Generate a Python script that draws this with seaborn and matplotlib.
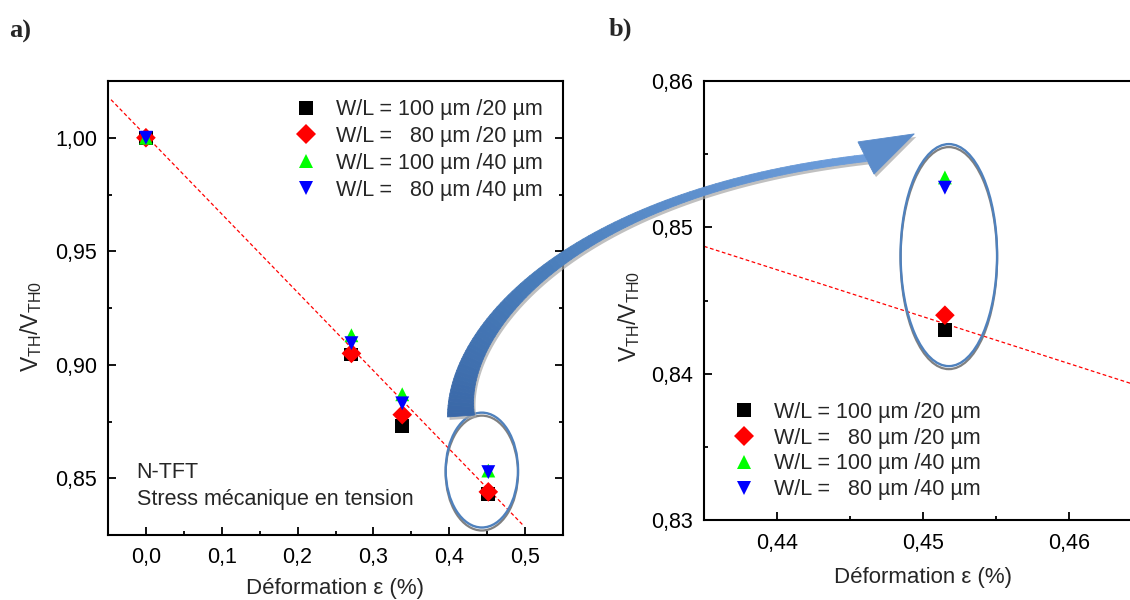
import numpy as np
import pandas as pd
import matplotlib
matplotlib.use('Agg')
import matplotlib.pyplot as plt
import matplotlib.colors as mcolors
from matplotlib.patches import Ellipse, Polygon
from matplotlib.collections import PolyCollection
from matplotlib.ticker import MultipleLocator, FuncFormatter
from matplotlib.transforms import offset_copy
import seaborn as sns

# strain steps (%)
strain = [0.0, 0.271, 0.338, 0.4515]

series_labels = ['W/L = 100 µm /20 µm', 'W/L =   80 µm /20 µm',
                 'W/L = 100 µm /40 µm', 'W/L =   80 µm /40 µm']
vth_100_20 = [1.000, 0.9045, 0.873, 0.843]
vth_80_20 = [1.000, 0.905, 0.878, 0.844]
vth_100_40 = [1.000, 0.913, 0.887, 0.8534]
vth_80_40 = [1.000, 0.9095, 0.883, 0.8527]

series_colors = ['black', 'red', '#00ff00', 'blue']
series_markers = ['s', 'D', '^', 'v']

# linear fit shown in each panel: (intercept, slope) and x span
fit_a = (1.0009, -0.345)
fit_a_x = [-0.046, 0.497]
fit_b = (0.9879, -0.32)
fit_b_x = [0.435, 0.465]

sns.set_style('ticks')
plt.rcParams['font.family'] = ['Liberation Sans', 'DejaVu Sans']
plt.rcParams['axes.edgecolor'] = 'black'
plt.rcParams['xtick.color'] = 'black'
plt.rcParams['ytick.color'] = 'black'
plt.rcParams['mathtext.fontset'] = 'custom'
plt.rcParams['mathtext.rm'] = 'Liberation Sans'

df = pd.DataFrame({
    'strain': strain * len(series_labels),
    'ratio': vth_100_20 + vth_80_20 + vth_100_40 + vth_80_40,
    'device': np.repeat(series_labels, len(strain)),
})

W, H = 1130, 600
fig = plt.figure(figsize=(W / 100, H / 100), dpi=100)
ax1 = fig.add_axes([108 / W, 1 - 535 / H, 455 / W, 454 / H])
ax2 = fig.add_axes([704 / W, 1 - 520.4 / H, 438 / W, 439.7 / H])

ylabel = r'V$_{\mathregular{TH}}$/V$_{\mathregular{TH0}}$'
xlabel = 'Déformation ε (%)'
FS = 15.5


def comma(fmt):
    return FuncFormatter(lambda v, p: fmt.format(v).replace('.', ','))


def draw_panel(ax, fit, fit_x):
    fx = np.array(fit_x)
    sns.lineplot(x=fx, y=fit[0] + fit[1] * fx, color='red', lw=0.9,
                 linestyle=(0, (3, 2)), ax=ax, zorder=2)
    sns.scatterplot(data=df, x='strain', y='ratio', hue='device', style='device',
                    hue_order=series_labels, style_order=series_labels,
                    palette=dict(zip(series_labels, series_colors)),
                    markers=dict(zip(series_labels, series_markers)),
                    s=100, linewidth=0, ax=ax, zorder=3)
    ax.set_xlabel(xlabel, fontsize=16)
    ax.set_ylabel(ylabel, fontsize=16.5)
    ax.tick_params(which='both', direction='in', width=1.3, labelsize=FS)
    ax.tick_params(axis='x', pad=9)
    ax.tick_params(axis='y', pad=8)
    ax.tick_params(which='major', length=6)
    ax.tick_params(which='minor', length=3)
    for sp in ax.spines.values():
        sp.set_linewidth(1.5)
        sp.set_visible(True)


draw_panel(ax1, fit_a, fit_a_x)
ax1.set_xlim(-0.05, 0.55)
ax1.set_ylim(0.825, 1.025)
ax1.xaxis.set_major_locator(MultipleLocator(0.1))
ax1.xaxis.set_minor_locator(MultipleLocator(0.05))
ax1.yaxis.set_major_locator(MultipleLocator(0.05))
ax1.yaxis.set_minor_locator(MultipleLocator(0.025))
ax1.xaxis.set_major_formatter(comma('{:.1f}'))
ax1.yaxis.set_major_formatter(comma('{:.2f}'))
ax1.tick_params(which='both', right=True)
ax1.xaxis.set_label_coords(0.5, -0.095)
ax1.yaxis.set_label_coords(-0.14, 0.46)
sns.move_legend(ax1, 'upper left', bbox_to_anchor=(0.411, 0.96), title=None,
                frameon=False, fontsize=FS, handlelength=1.0, handletextpad=0.9,
                labelspacing=0.27, borderaxespad=0, borderpad=0)
ax1.text(0.063, 0.137, 'N-TFT', transform=ax1.transAxes, fontsize=FS, va='center')
ax1.text(0.063, 0.078, 'Stress mécanique en tension', transform=ax1.transAxes,
         fontsize=FS, va='center')

draw_panel(ax2, fit_b, fit_b_x)
ax2.set_xlim(0.435, 0.465)
ax2.set_ylim(0.83, 0.86)
ax2.xaxis.set_major_locator(MultipleLocator(0.01))
ax2.xaxis.set_minor_locator(MultipleLocator(0.005))
ax2.yaxis.set_major_locator(MultipleLocator(0.01))
ax2.yaxis.set_minor_locator(MultipleLocator(0.005))
ax2.xaxis.set_major_formatter(comma('{:.2f}'))
ax2.yaxis.set_major_formatter(comma('{:.2f}'))
ax2.xaxis.set_label_coords(0.5, -0.105)
ax2.yaxis.set_label_coords(-0.142, 0.464)
sns.move_legend(ax2, 'lower left', bbox_to_anchor=(0.066, 0.046), title=None,
                frameon=False, fontsize=FS, handlelength=1.0, handletextpad=0.9,
                labelspacing=0.22, borderaxespad=0, borderpad=0)


def ring(ax, center, w, h):
    shadow_tr = offset_copy(ax.transData, fig=fig, x=0, y=-3, units='dots')
    ax.add_patch(Ellipse(center, w, h, transform=shadow_tr, fill=False, ec='0.5',
                         lw=1.6, clip_on=False, zorder=4))
    ax.add_patch(Ellipse(center, w, h, fill=False, ec='#4f81bd', lw=1.7,
                         clip_on=False, zorder=5))


ring(ax1, (0.443, 0.8536), 0.0954, 0.0506)
ring(ax2, (0.45177, 0.8481), 0.00661, 0.01515)


# curved tapered arrow linking the two circled groups (figure pixels, y from top)
def to_fig(p):
    return np.column_stack([p[:, 0] / W, 1 - p[:, 1] / H])


ctrl = np.array([[461, 416.], [455, 330.], [570, 192.], [866, 158.]])
t = np.linspace(0, 1, 80)[:, None]
bern = np.hstack([(1 - t) ** 3, 3 * (1 - t) ** 2 * t, 3 * (1 - t) * t ** 2, t ** 3])
centre = bern @ ctrl
dbern = np.hstack([-3 * (1 - t) ** 2, 3 * (1 - t) ** 2 - 6 * t * (1 - t),
                   6 * t * (1 - t) - 3 * t ** 2, 3 * t ** 2])
tang = dbern @ ctrl
tang /= np.linalg.norm(tang, axis=1, keepdims=True)
normal = np.column_stack([-tang[:, 1], tang[:, 0]])
half = (3.5 + 10 * (1 - t[:, 0]) ** 2)[:, None]
left_edge = centre + normal * half
right_edge = centre - normal * half
ang = np.deg2rad(-20)
hd = tang[-1] @ np.array([[np.cos(ang), np.sin(ang)], [-np.sin(ang), np.cos(ang)]])
hn = np.array([-hd[1], hd[0]])
p_end = centre[-1]
head = np.array([p_end + hn * 18, p_end + hd * 54, p_end - hn * 18])

shadow_poly = np.vstack([left_edge, head, right_edge[::-1]]) + np.array([2, 3])
fig.add_artist(Polygon(to_fig(shadow_poly), closed=True, transform=fig.transFigure,
                       fc='0.65', ec='none', alpha=0.7, zorder=9))
quads = [to_fig(np.array([left_edge[i], left_edge[i + 1], right_edge[i + 1], right_edge[i]]))
         for i in range(len(t) - 1)]
ramp = mcolors.LinearSegmentedColormap.from_list('ribbon', ['#3a68a8', '#4a7ebb', '#6d9ddb'])
shades = ramp(np.linspace(0, 1, len(quads)))
body = PolyCollection(quads, transform=fig.transFigure, zorder=10,
                      facecolors=shades, edgecolors=shades, linewidths=0.6)
fig.add_artist(body)
fig.add_artist(Polygon(to_fig(head), closed=True, transform=fig.transFigure,
                       fc='#5b8ccb', ec='#5b8ccb', lw=0.6, zorder=10))

fig.text(9 / W, 1 - 31 / H, 'a)', family=['Liberation Serif'], fontweight='bold',
         fontsize=19, va='center')
fig.text(609 / W, 1 - 29 / H, 'b)', family=['Liberation Serif'], fontweight='bold',
         fontsize=19, va='center')

fig.savefig('out.png', dpi=100)
